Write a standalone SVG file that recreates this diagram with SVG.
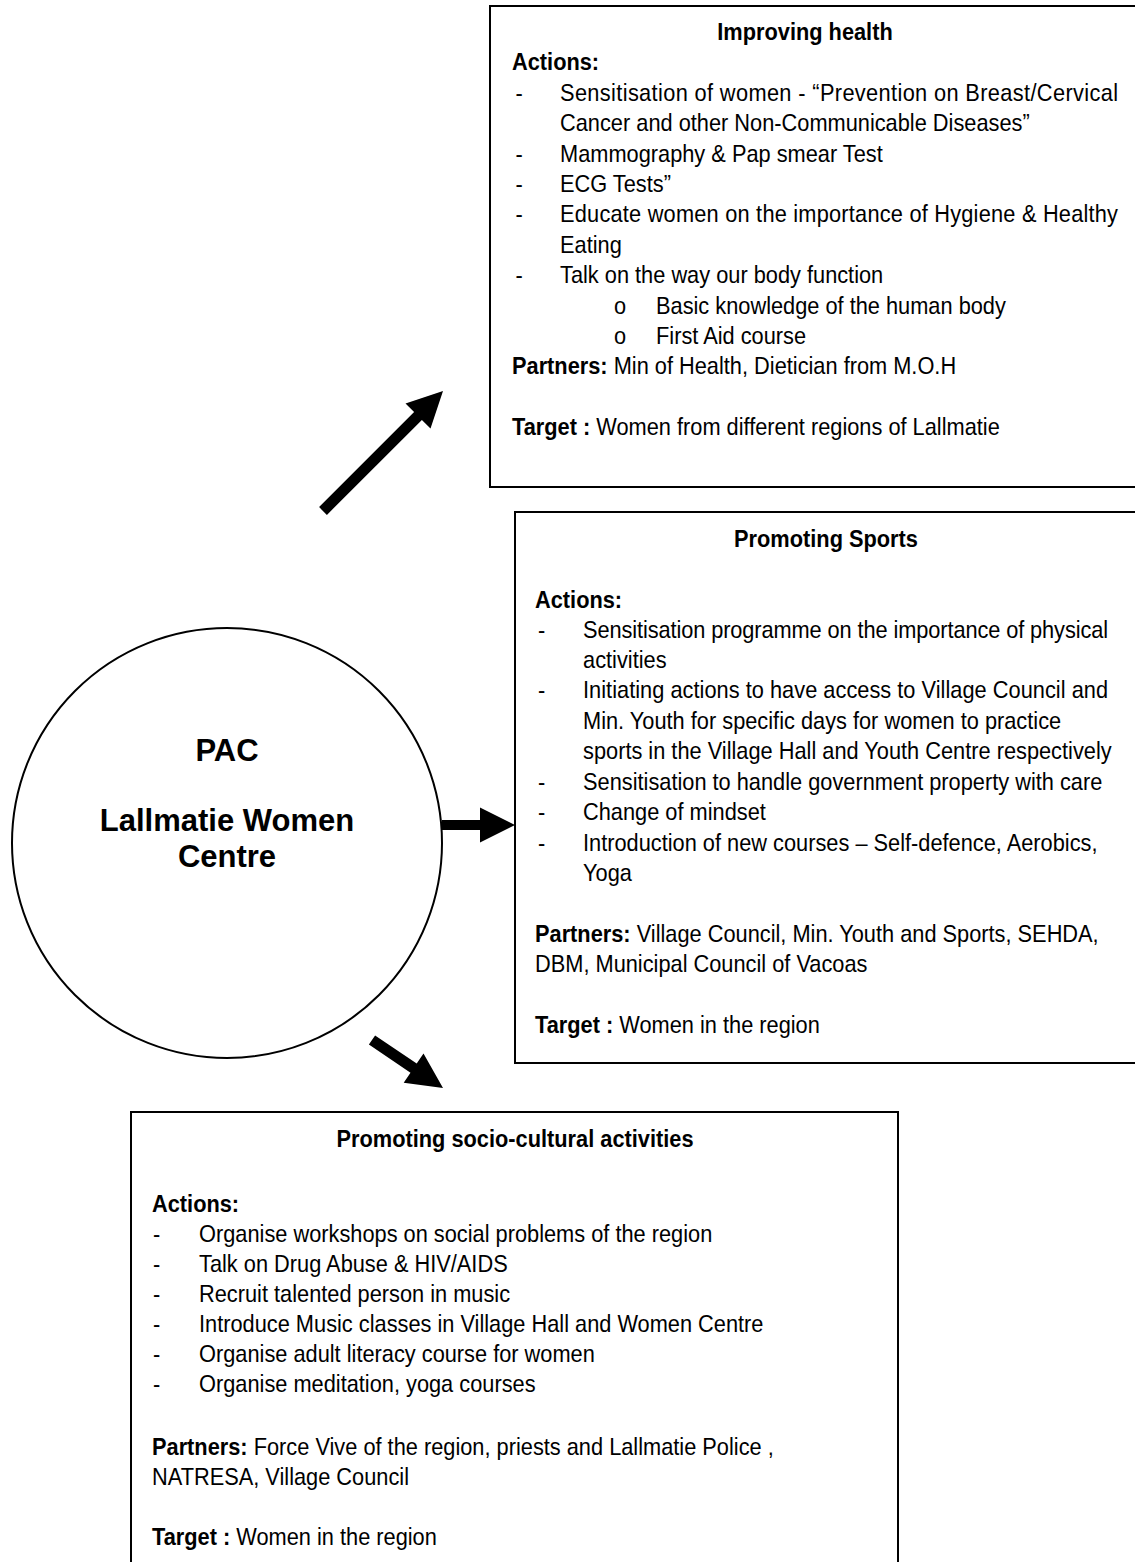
<svg xmlns="http://www.w3.org/2000/svg" width="1135" height="1562" viewBox="0 0 1135 1562">
<style>
.t{font-family:"Liberation Sans",Arial,sans-serif;font-size:24px;fill:#000}
.b{font-weight:bold}
.box{fill:#fff;stroke:#000;stroke-width:2}
.c{font-family:"Liberation Sans",Arial,sans-serif;font-size:31px;font-weight:bold;fill:#000;text-anchor:middle}
.m{text-anchor:middle}
.arrow{fill:#000;stroke:none}
</style>
<rect width="1135" height="1562" fill="#fff"/>

<g id="connectors">
<polygon class="arrow" points="319.1,507.1 414.1,412.1 405.5,403.5 443,391 430.5,428.5 421.9,419.9 326.9,514.9"/>
<polygon class="arrow" points="442,820 480,820 480,807.5 515,825 480,842.5 480,830 442,830"/>
<polygon class="arrow" points="375.1,1035.4 416.7,1063.5 423.5,1053.5 443,1088 403.7,1082.7 410.5,1072.7 368.9,1044.6"/>
</g>

<g id="node-health">
<rect class="box" x="490" y="6" width="660" height="481"/>
<g class="t" transform="translate(512 0) scale(0.908 1)">
<text class="b m" x="322.7" y="40">Improving health</text>
<text class="b" x="0" y="70">Actions:</text>
<text x="4" y="101">-</text>
<text x="52.9" y="101" textLength="614.5" lengthAdjust="spacing">Sensitisation of women - “Prevention on Breast/Cervical</text>
<text x="52.9" y="131">Cancer and other Non-Communicable Diseases”</text>
<text x="4" y="162">-</text>
<text x="52.9" y="162">Mammography &amp; Pap smear Test</text>
<text x="4" y="192">-</text>
<text x="52.9" y="192">ECG Tests”</text>
<text x="4" y="222">-</text>
<text x="52.9" y="222" textLength="614.5" lengthAdjust="spacing">Educate women on the importance of Hygiene &amp; Healthy</text>
<text x="52.9" y="253">Eating</text>
<text x="4" y="283">-</text>
<text x="52.9" y="283">Talk on the way our body function</text>
<text x="112.3" y="314">o</text>
<text x="158.6" y="314">Basic knowledge of the human body</text>
<text x="112.3" y="344">o</text>
<text x="158.6" y="344">First Aid course</text>
<text x="0" y="374"><tspan class="b">Partners:</tspan><tspan> Min of Health, Dietician from M.O.H</tspan></text>
<text x="0" y="435"><tspan class="b">Target :</tspan><tspan> Women from different regions of Lallmatie</tspan></text>
</g>
</g>

<g id="node-sports">
<rect class="box" x="515" y="512" width="640" height="551"/>
<g class="t" transform="translate(535 0) scale(0.908 1)">
<text class="b m" x="320.5" y="547">Promoting Sports</text>
<text class="b" x="0" y="608">Actions:</text>
<text x="3.3" y="638">-</text>
<text x="52.9" y="638" textLength="578.2" lengthAdjust="spacing">Sensitisation programme on the importance of physical</text>
<text x="52.9" y="668">activities</text>
<text x="3.3" y="698">-</text>
<text x="52.9" y="698" textLength="578.2" lengthAdjust="spacing">Initiating actions to have access to Village Council and</text>
<text x="52.9" y="729">Min. Youth for specific days for women to practice</text>
<text x="52.9" y="759">sports in the Village Hall and Youth Centre respectively</text>
<text x="3.3" y="790">-</text>
<text x="52.9" y="790">Sensitisation to handle government property with care</text>
<text x="3.3" y="820">-</text>
<text x="52.9" y="820">Change of mindset</text>
<text x="3.3" y="851">-</text>
<text x="52.9" y="851">Introduction of new courses – Self-defence, Aerobics,</text>
<text x="52.9" y="881">Yoga</text>
<text x="0" y="942"><tspan class="b">Partners:</tspan><tspan> Village Council, Min. Youth and Sports, SEHDA,</tspan></text>
<text x="0" y="972">DBM, Municipal Council of Vacoas</text>
<text x="0" y="1033"><tspan class="b">Target :</tspan><tspan> Women in the region</tspan></text>
</g>
</g>

<g id="node-socio">
<rect class="box" x="131" y="1112" width="767" height="470"/>
<g class="t" transform="translate(152 0) scale(0.908 1)">
<text class="b m" x="399.8" y="1147">Promoting socio-cultural activities</text>
<text class="b" x="0" y="1212">Actions:</text>
<text x="1.1" y="1242">-</text>
<text x="51.8" y="1242">Organise workshops on social problems of the region</text>
<text x="1.1" y="1272">-</text>
<text x="51.8" y="1272">Talk on Drug Abuse &amp; HIV/AIDS</text>
<text x="1.1" y="1302">-</text>
<text x="51.8" y="1302">Recruit talented person in music</text>
<text x="1.1" y="1332">-</text>
<text x="51.8" y="1332">Introduce Music classes in Village Hall and Women Centre</text>
<text x="1.1" y="1362">-</text>
<text x="51.8" y="1362">Organise adult literacy course for women</text>
<text x="1.1" y="1392">-</text>
<text x="51.8" y="1392">Organise meditation, yoga courses</text>
<text x="0" y="1455"><tspan class="b">Partners:</tspan><tspan> Force Vive of the region, priests and Lallmatie Police ,</tspan></text>
<text x="0" y="1485">NATRESA, Village Council</text>
<text x="0" y="1545"><tspan class="b">Target :</tspan><tspan> Women in the region</tspan></text>
</g>
</g>

<g id="node-pac">
<circle cx="227" cy="843" r="215" fill="#fff" stroke="#000" stroke-width="2"/>
<text class="c" x="227" y="761">PAC</text>
<text class="c" x="227" y="831">Lallmatie Women</text>
<text class="c" x="227" y="867">Centre</text>
</g>
</svg>
